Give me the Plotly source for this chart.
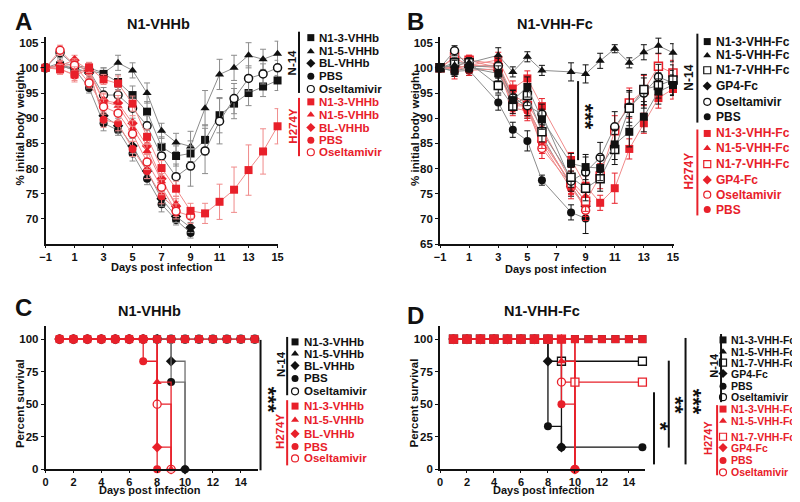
import plotly.graph_objects as go

# The page body has an 8px margin, so the figure is laid out in page pixels minus that offset.
OFF = 8
W, H = 800 - OFF, 502 - OFF
def px(x): return (x - OFF) / W
def py(y): return 1 - (y - OFF) / H

# ---------------- data: panel A (body weight, N1-VHHb) ----------------
days_A = [-1, 0, 1, 2, 3, 4, 5, 6, 7, 8, 9, 10, 11, 12, 13, 14, 15]
A_n14_n13 = [100, 100.5, 99.5, 99.5, 98.8, 97.2, 94.6, 91.3, 84.3, 82.5, 83.0, 85.7, 90.6, 92.9, 95.0, 96.3, 97.5]
A_n14_n15 = [100, 101.0, 100.5, 100.0, 99.0, 101.0, 99.5, 95.0, 87.5, 85.2, 84.4, 92.0, 98.7, 100.0, 102.5, 101.7, 102.8]
A_n14_bl = [100, 100.5, 100.0, 99.0, 90.5, 88.5, 84.5, 79.5, 74.0, 70.5, 68.3]
A_n14_pbs = [100, 100.3, 99.8, 96.0, 89.0, 87.6, 83.0, 78.0, 72.9, 69.8, 67.2]
A_n14_ose = [100, 103.0, 100.5, 99.5, 94.6, 94.6, 92.0, 88.5, 82.5, 78.4, 80.5, 83.5, 89.4, 93.9, 97.9, 98.8, 100.0]
A_h_n13 = [100, 99.7, 98.7, 100.1, 97.7, 96.9, 92.9, 86.3, 80.1, 76.0, 71.6, 71.1, 73.4, 75.8, 79.7, 83.4, 88.4]
A_h_n15 = [100, 100.3, 100.8, 99.2, 93.3, 92.5, 88.0, 83.5, 77.5, 73.0]
A_h_bl = [100, 100.5, 101.5, 99.5, 93.5, 93.0, 89.0, 84.5, 78.0, 72.5]
A_h_pbs = [100, 99.8, 98.5, 99.7, 89.7, 89.0, 83.9, 79.5, 74.5, 72.0]
A_h_ose = [100, 103.5, 100.5, 97.0, 92.3, 91.0, 86.9, 81.3, 76.3, 71.5, 70.6]

A_n14_n13_err = [0, 1.0, 1.2, 1.0, 1.2, 1.5, 1.8, 2.0, 2.0, 2.0, 2.5, 3.0, 3.5, 3.0, 2.5, 2.0, 2.0]
A_n14_n15_err = [0, 1.0, 1.0, 1.0, 1.0, 1.5, 1.5, 2.0, 1.5, 1.8, 3.0, 3.5, 3.0, 2.5, 2.5, 2.0, 2.5]
A_n14_bl_err = [0, 1.0, 1.0, 1.0, 1.5, 1.5, 1.5, 1.5, 1.5, 1.2, 1.0]
A_n14_pbs_err = [0, 1.0, 1.0, 1.0, 1.5, 1.0, 1.5, 1.2, 1.5, 1.0, 1.0]
A_n14_ose_err = [0, 1.0, 1.0, 1.0, 1.5, 1.5, 2.0, 2.0, 2.5, 2.5, 4.0, 4.5, 4.5, 3.0, 2.5, 2.0, 1.5]
A_h_n13_err = [0, 1.0, 1.5, 1.0, 1.0, 1.5, 1.5, 1.5, 1.5, 1.5, 1.5, 2.0, 3.5, 4.5, 5.0, 4.5, 3.5]
A_h_n15_err = [0, 1.0, 1.0, 1.0, 1.5, 1.5, 1.5, 1.5, 1.5, 1.5]
A_h_bl_err = [0, 1.0, 1.0, 1.0, 1.5, 1.5, 1.5, 1.5, 1.5, 1.5]
A_h_pbs_err = [0, 1.0, 1.0, 1.0, 1.5, 1.5, 1.5, 1.5, 1.5, 1.5]
A_h_ose_err = [0, 1.0, 1.0, 1.0, 1.5, 1.5, 1.5, 1.5, 1.5, 1.5, 1.5]

# ---------------- data: panel B (body weight, N1-VHH-Fc) ----------------
days_B = [-1, 0, 1, 3, 4, 5, 6, 8, 9, 10, 11, 12, 13, 14, 15]
B_n14_n13 = [100, 99.4, 100.0, 98.9, 93.6, 96.2, 89.8, 81.0, 80.3, 80.1, 84.8, 87.3, 90.3, 95.3, 96.6]
B_n14_n15 = [100, 100.5, 101.0, 102.5, 99.2, 102.2, 99.5, 99.2, 98.8, 101.4, 103.8, 101.0, 103.1, 104.4, 103.0]
B_n14_n17 = [100, 101.0, 101.0, 96.5, 92.4, 94.5, 87.3, 78.3, 76.1, 78.0, 83.8, 92.0, 95.7, 96.5, 97.6]
B_n14_gp4 = [100, 100.5, 100.0, 99.5, 94.5, 92.0, 86.5, 76.5, 72.5]
B_n14_ose = [100, 103.4, 100.2, 100.4, 94.0, 92.5, 90.8, 77.5, 79.3, 82.2, 88.3, 92.2, 95.0, 98.2, 97.0]
B_n14_pbs = [100, 99.3, 99.5, 93.1, 87.7, 85.5, 77.7, 71.3, 70.1]
B_h_n13 = [100, 99.8, 100.5, 101.6, 95.9, 97.9, 92.4, 81.7, 76.6, 73.2, 76.1, 83.9, 89.0, 94.0, 95.8]
B_h_n15 = [100, 100.0, 101.5, 100.8, 94.5, 93.0, 88.0, 77.5, 74.5]
B_h_n17 = [100, 102.2, 101.5, 100.0, 93.0, 92.5, 86.0, 77.0, 73.5, 78.5, 87.5, 93.0, 95.5, 100.3, 99.0]
B_h_gp4 = [100, 100.0, 100.5, 100.5, 93.5, 92.0, 85.5, 77.0, 73.5]
B_h_ose = [100, 102.0, 100.5, 100.0, 92.5, 92.4, 84.0, 76.8, 71.7]
B_h_pbs = [100, 100.2, 99.5, 99.8, 92.0, 91.5, 85.0, 76.0, 72.5]

B_n14_n13_err = [0, 1.0, 1.0, 1.5, 2.0, 2.0, 2.0, 2.0, 2.5, 2.5, 3.0, 3.0, 3.0, 2.5, 2.0]
B_n14_n15_err = [0, 1.0, 1.0, 1.5, 1.0, 1.0, 1.0, 1.8, 1.8, 1.5, 0.8, 1.0, 1.5, 1.5, 1.8]
B_n14_n17_err = [0, 1.0, 1.0, 1.5, 1.5, 2.0, 2.0, 2.0, 2.5, 2.5, 3.0, 3.5, 3.0, 2.5, 3.0]
B_n14_gp4_err = [0, 1.0, 1.0, 1.5, 1.5, 2.0, 2.0, 2.0, 2.0]
B_n14_ose_err = [0, 1.0, 1.0, 1.5, 1.5, 2.0, 2.0, 2.0, 3.0, 3.0, 3.0, 3.0, 3.0, 2.5, 2.5]
B_n14_pbs_err = [0, 1.0, 1.0, 1.5, 1.5, 2.0, 1.0, 1.5, 3.0]
B_h_n13_err = [0, 2.0, 1.5, 1.5, 1.5, 1.5, 1.5, 1.5, 2.0, 1.5, 3.0, 2.0, 2.0, 2.0, 2.0]
B_h_n15_err = [0, 1.0, 1.0, 1.5, 1.5, 2.0, 2.0, 2.0, 2.0]
B_h_n17_err = [0, 1.0, 1.0, 1.5, 1.5, 2.0, 2.0, 2.0, 2.0, 2.5, 3.0, 3.0, 3.0, 2.5, 2.5]
B_h_gp4_err = [0, 1.0, 1.0, 1.5, 1.5, 2.0, 2.0, 2.0, 2.0]
B_h_ose_err = [0, 1.0, 1.0, 1.5, 1.5, 2.0, 2.0, 2.0, 2.0]
B_h_pbs_err = [0, 1.0, 1.0, 1.5, 1.5, 2.0, 2.0, 2.0, 2.0]

# ---------------- data: panel C (survival, N1-VHHb) ----------------
C_full_days = [1, 2, 3, 4, 5, 6, 7, 8, 9, 10, 11, 12, 13, 14, 15]
C_full_vals = [100, 100, 100, 100, 100, 100, 100, 100, 100, 100, 100, 100, 100, 100, 100]
C_n14_bl_days = [1, 2, 3, 4, 5, 6, 7, 8, 9, 10]
C_n14_bl_vals = [100, 100, 100, 100, 100, 100, 100, 100, 83, 0]
C_n14_pbs_days = [1, 2, 3, 4, 5, 6, 7, 8, 9, 10]
C_n14_pbs_vals = [100, 100, 100, 100, 100, 100, 100, 100, 67, 0]
C_h_pbs_days = [1, 2, 3, 4, 5, 6, 7, 8]
C_h_pbs_vals = [100, 100, 100, 100, 100, 100, 83, 0]
C_h_n15_days = [1, 2, 3, 4, 5, 6, 7, 8, 9]
C_h_n15_vals = [100, 100, 100, 100, 100, 100, 100, 67, 0]
C_h_bl_days = [1, 2, 3, 4, 5, 6, 7, 8, 9]
C_h_bl_vals = [100, 100, 100, 100, 100, 100, 100, 17, 0]
C_h_ose_days = [1, 2, 3, 4, 5, 6, 7, 8, 9]
C_h_ose_vals = [100, 100, 100, 100, 100, 100, 100, 50, 0]

# ---------------- data: panel D (survival, N1-VHH-Fc) ----------------
D_full_days = [1, 2, 3, 4, 5, 6, 7, 8, 9, 10, 11, 12, 13, 14, 15]
D_full_vals = [100, 100, 100, 100, 100, 100, 100, 100, 100, 100, 100, 100, 100, 100, 100]
D_n14_n17_days = [1, 2, 3, 4, 5, 6, 7, 8, 9, 15]
D_n14_n17_vals = [100, 100, 100, 100, 100, 100, 100, 100, 83, 83]
D_n14_gp4_days = [1, 2, 3, 4, 5, 6, 7, 8, 9]
D_n14_gp4_vals = [100, 100, 100, 100, 100, 100, 100, 83, 17]
D_n14_pbs_days = [1, 2, 3, 4, 5, 6, 7, 8, 9, 15]
D_n14_pbs_vals = [100, 100, 100, 100, 100, 100, 100, 33, 17, 17]
D_h_n15_days = [1, 2, 3, 4, 5, 6, 7, 8, 9, 10]
D_h_n15_vals = [100, 100, 100, 100, 100, 100, 100, 100, 83, 0]
D_h_n17_days = [1, 2, 3, 4, 5, 6, 7, 8, 9, 10, 15]
D_h_n17_vals = [100, 100, 100, 100, 100, 100, 100, 100, 100, 67, 67]
D_h_gp4_days = [1, 2, 3, 4, 5, 6, 7, 8, 9, 10]
D_h_gp4_vals = [100, 100, 100, 100, 100, 100, 100, 100, 100, 0]
D_h_pbs_days = [1, 2, 3, 4, 5, 6, 7, 8, 9, 10]
D_h_pbs_vals = [100, 100, 100, 100, 100, 100, 100, 100, 50, 0]
D_h_ose_days = [1, 2, 3, 4, 5, 6, 7, 8, 9, 10]
D_h_ose_vals = [100, 100, 100, 100, 100, 100, 100, 100, 67, 0]

# legend labels
legA_n14 = ["N1-3-VHHb", "N1-5-VHHb", "BL-VHHb", "PBS", "Oseltamivir"]
legB_n14 = ["N1-3-VHH-Fc", "N1-5-VHH-Fc", "N1-7-VHH-Fc", "GP4-Fc", "Oseltamivir", "PBS"]
legD_n14 = ["N1-3-VHH-Fc", "N1-5-VHH-Fc", "N1-7-VHH-Fc", "GP4-Fc", "PBS", "Oseltamivir"]

# ---------------- styling ----------------
FONT = "Liberation Sans"
BLACK = "#111111"
GRAY = "#8c8c8c"
RED = "#e8202a"
LRED = "#f08a8a"

fig = go.Figure()

def wseries(x, y, err, sym, color, lcolor, ecolor, xa, ya, hollow=False, size=8):
    fig.add_trace(go.Scatter(
        x=x, y=y, xaxis=xa, yaxis=ya, mode="lines+markers",
        line=dict(color=lcolor, width=1),
        marker=dict(symbol=sym, size=size, color="white" if hollow else color,
                    line=dict(color=color, width=1.5 if hollow else 0)),
        error_y=dict(type="data", array=err, color=ecolor, thickness=1, width=3),
        showlegend=False, cliponaxis=False))

def sseries(x, y, sym, color, lcolor, xa, ya, hollow=False, size=8):
    fig.add_trace(go.Scatter(
        x=x, y=y, xaxis=xa, yaxis=ya, mode="lines+markers", line_shape="hv",
        line=dict(color=lcolor, width=1.3),
        marker=dict(symbol=sym, size=size, color="white" if hollow else color,
                    line=dict(color=color, width=1.3 if hollow else 0)),
        showlegend=False, cliponaxis=False))

# Panel A
wseries(days_A, A_n14_pbs, A_n14_pbs_err, "circle", BLACK, GRAY, GRAY, "x", "y")
wseries(days_A, A_n14_bl, A_n14_bl_err, "diamond", BLACK, GRAY, GRAY, "x", "y")
wseries(days_A, A_n14_n15, A_n14_n15_err, "triangle-up", BLACK, GRAY, GRAY, "x", "y")
wseries(days_A, A_n14_n13, A_n14_n13_err, "square", BLACK, GRAY, GRAY, "x", "y")
wseries(days_A, A_n14_ose, A_n14_ose_err, "circle", BLACK, GRAY, GRAY, "x", "y", hollow=True)
wseries(days_A, A_h_pbs, A_h_pbs_err, "circle", RED, LRED, LRED, "x", "y")
wseries(days_A, A_h_bl, A_h_bl_err, "diamond", RED, LRED, LRED, "x", "y")
wseries(days_A, A_h_n15, A_h_n15_err, "triangle-up", RED, LRED, LRED, "x", "y")
wseries(days_A, A_h_ose, A_h_ose_err, "circle", RED, LRED, LRED, "x", "y", hollow=True)
wseries(days_A, A_h_n13, A_h_n13_err, "square", RED, LRED, LRED, "x", "y")

# Panel B
wseries(days_B, B_n14_pbs, B_n14_pbs_err, "circle", BLACK, GRAY, BLACK, "x2", "y2")
wseries(days_B, B_n14_gp4, B_n14_gp4_err, "diamond", BLACK, GRAY, BLACK, "x2", "y2")
wseries(days_B, B_h_pbs, B_h_pbs_err, "circle", RED, LRED, RED, "x2", "y2")
wseries(days_B, B_h_gp4, B_h_gp4_err, "diamond", RED, LRED, RED, "x2", "y2")
wseries(days_B, B_h_n15, B_h_n15_err, "triangle-up", RED, LRED, RED, "x2", "y2")
wseries(days_B, B_h_ose, B_h_ose_err, "circle", RED, LRED, RED, "x2", "y2", hollow=True)
wseries(days_B, B_h_n17, B_h_n17_err, "square", RED, LRED, RED, "x2", "y2", hollow=True)
wseries(days_B, B_h_n13, B_h_n13_err, "square", RED, LRED, RED, "x2", "y2")
wseries(days_B, B_n14_ose, B_n14_ose_err, "circle", BLACK, GRAY, BLACK, "x2", "y2", hollow=True)
wseries(days_B, B_n14_n17, B_n14_n17_err, "square", BLACK, GRAY, BLACK, "x2", "y2", hollow=True)
wseries(days_B, B_n14_n13, B_n14_n13_err, "square", BLACK, GRAY, BLACK, "x2", "y2")
wseries(days_B, B_n14_n15, B_n14_n15_err, "triangle-up", BLACK, GRAY, BLACK, "x2", "y2")

# Panel C
CG = "#6e6e6e"
sseries(C_full_days, C_full_vals, "circle", BLACK, CG, "x3", "y3", hollow=True)
sseries(C_n14_bl_days, C_n14_bl_vals, "diamond", BLACK, CG, "x3", "y3")
sseries(C_n14_pbs_days, C_n14_pbs_vals, "circle", BLACK, CG, "x3", "y3")
sseries(C_h_bl_days, C_h_bl_vals, "diamond", RED, RED, "x3", "y3")
sseries(C_h_ose_days, C_h_ose_vals, "circle", RED, RED, "x3", "y3", hollow=True)
sseries(C_h_n15_days, C_h_n15_vals, "triangle-up", RED, RED, "x3", "y3")
sseries(C_h_pbs_days, C_h_pbs_vals, "circle", RED, RED, "x3", "y3")
sseries(C_full_days, C_full_vals, "square", RED, RED, "x3", "y3")

# Panel D
sseries(D_full_days, D_full_vals, "square", BLACK, BLACK, "x4", "y4")
sseries(D_n14_pbs_days, D_n14_pbs_vals, "circle", BLACK, BLACK, "x4", "y4")
sseries(D_n14_gp4_days, D_n14_gp4_vals, "diamond", BLACK, BLACK, "x4", "y4")
sseries(D_n14_n17_days, D_n14_n17_vals, "square", BLACK, BLACK, "x4", "y4", hollow=True)
sseries(D_h_gp4_days, D_h_gp4_vals, "diamond", RED, RED, "x4", "y4")
sseries(D_h_ose_days, D_h_ose_vals, "circle", RED, RED, "x4", "y4", hollow=True)
sseries(D_h_n17_days, D_h_n17_vals, "square", RED, RED, "x4", "y4", hollow=True)
sseries(D_h_pbs_days, D_h_pbs_vals, "circle", RED, RED, "x4", "y4")
sseries(D_h_n15_days, D_h_n15_vals, "triangle-up", RED, RED, "x4", "y4")
sseries(D_full_days, D_full_vals, "square", RED, RED, "x4", "y4")

# ---------------- axes ----------------
def axstyle(size=11.5, **kw):
    d = dict(showline=True, linecolor=BLACK, linewidth=1.6, ticks="outside", ticklen=3,
             tickwidth=1.4, tickcolor=BLACK, showgrid=False, zeroline=False,
             tickfont=dict(family=FONT, size=size, color=BLACK, weight="bold"))
    d.update(kw)
    return d

top_y = [py(247), py(37)]
bot_y = [py(475), py(330)]
fig.update_layout(
    xaxis=axstyle(size=11, ticklen=2, domain=[px(40), px(276)], range=[-1, 15.05], tickvals=[-1, 1, 3, 5, 7, 9, 11, 13, 15], anchor="y"),
    yaxis=axstyle(domain=top_y, range=[65, 106.2], tickvals=[70, 75, 80, 85, 90, 95, 100, 105], anchor="x"),
    xaxis2=axstyle(size=11, ticklen=2, domain=[px(440), px(677)], range=[-1, 15.05], tickvals=[-1, 1, 3, 5, 7, 9, 11, 13, 15], anchor="y2"),
    yaxis2=axstyle(domain=top_y, range=[65, 106.2], tickvals=[65, 70, 75, 80, 85, 90, 95, 100, 105], anchor="x2"),
    xaxis3=axstyle(size=11, ticklen=2, domain=[px(40), px(255)], range=[0, 15.2], tickvals=[0, 2, 4, 6, 8, 10, 12, 14], anchor="y3"),
    yaxis3=axstyle(domain=bot_y, range=[0, 110], tickvals=[0, 25, 50, 75, 100], anchor="x3"),
    xaxis4=axstyle(size=11, ticklen=2, domain=[px(440), px(648)], range=[0, 15.2], tickvals=[0, 2, 4, 6, 8, 10, 12, 14], anchor="y4"),
    yaxis4=axstyle(domain=bot_y, range=[0, 110], tickvals=[0, 25, 50, 75, 100], anchor="x4"),
    xaxis5=dict(domain=[0, 1], range=[OFF, 800], visible=False, anchor="y5", fixedrange=True),
    yaxis5=dict(domain=[0, 1], range=[502, OFF], visible=False, anchor="x5", fixedrange=True),
)

ann = []
shapes = []
def text(x, y, s, size=11, color=BLACK, xanchor="center", angle=0):
    ann.append(dict(x=px(x), y=py(y), xref="paper", yref="paper", text=s,
                    showarrow=False, xanchor=xanchor, yanchor="middle", textangle=angle,
                    font=dict(family=FONT, size=size, color=color, weight="bold")))
def vline(x, y0, y1, color=BLACK, width=2):
    shapes.append(dict(type="line", xref="paper", yref="paper", x0=px(x), x1=px(x),
                       y0=py(y0), y1=py(y1), line=dict(color=color, width=width)))

# panel letters and titles
text(18, 22, "A", size=24); text(415, 22, "B", size=24)
text(18, 311, "C", size=24); text(415, 319, "D", size=24)
text(155, 24, "N1-VHHb", size=14.5); text(557, 24, "N1-VHH-Fc", size=14.5)
text(145, 315, "N1-VHHb", size=14.5); text(543, 315, "N1-VHH-Fc", size=14.5)
# axis titles
text(14, 130, "% initial body weight", size=11.5, angle=-90)
text(414, 130, "% initial body weight", size=11.5, angle=-90)
text(14, 408, "Percent survival", size=11.5, angle=-90)
text(414, 408, "Percent survival", size=11.5, angle=-90)
text(158, 270, "Days post infection", size=11); text(558, 272, "Days post infection", size=11)
text(146, 496, "Days post infection", size=11); text(545, 496, "Days post infection", size=11)

# significance marks
vline(580, 82, 162, width=2); text(587, 118, "***", size=22, angle=90)
vline(258, 344, 476, width=2); text(266, 405, "***", size=22, angle=90)
vline(657, 397, 470, width=2); text(663, 432, "*", size=22, angle=90)
vline(672, 365, 453, width=2); text(679, 410, "**", size=22, angle=90)
vline(689, 342, 470, width=2); text(697, 407, "***", size=22, angle=90)

# legends
lx, ly, lsym, lcol, lhol = [], [], [], [], []
def legend(items, syms, hollows, color, xm, xt, ys, size=11):
    for s, sy, ho, y in zip(items, syms, hollows, ys):
        lx.append(xm); ly.append(y); lsym.append(sy); lcol.append(color); lhol.append(ho)
        text(xt, y, s, size=size, color=color, xanchor="left")

symA = ["square", "triangle-up", "diamond", "circle", "circle"]
holA = [False, False, False, False, True]
legend(legA_n14, symA, holA, BLACK, 309, 315, [38, 52, 64, 77, 90], size=11.5)
legend(legA_n14, symA, holA, RED, 309, 315, [103, 116, 129, 142, 154], size=11.5)
vline(297, 32, 94); vline(297, 99, 158, color=RED)
text(290, 63, "N-14", size=11.5, angle=-90); text(290, 128, "H274Y", size=11.5, color=RED, angle=-90)

symB = ["square", "triangle-up", "square", "diamond", "circle", "circle"]
holB = [False, False, True, False, True, False]
legend(legB_n14, symB, holB, BLACK, 711, 718, [42, 56, 71, 87, 103, 118], size=12)
legend(legB_n14, symB, holB, RED, 711, 718, [135, 150, 166, 182, 197, 212], size=12)
vline(701, 34, 124); vline(701, 131, 218, color=RED)
text(693, 78, "N-14", size=12, angle=-90); text(693, 173, "H274Y", size=12, color=RED, angle=-90)

legend(legA_n14, symA, holA, BLACK, 293, 300, [346, 358, 370, 383, 396], size=11.5)
legend(legA_n14, symA, holA, RED, 293, 300, [411, 425, 439, 452, 464], size=11.5)
vline(285, 341, 400); vline(285, 405, 471, color=RED)
text(278, 368, "N-14", size=11.5, angle=-90); text(278, 437, "H274Y", size=11.5, color=RED, angle=-90)

symD = ["square", "triangle-up", "square", "diamond", "circle", "circle"]
holD = [False, False, True, False, False, True]
legend(legD_n14, symD, holD, BLACK, 727, 733, [344, 356, 367, 378, 391, 402], size=10.5)
legend(legD_n14, symD, holD, RED, 727, 733, [414, 426, 442, 453, 466, 478], size=10.5)
vline(725, 338, 407); vline(721, 410, 481, color=RED)
text(717, 370, "N-14", size=11, angle=-90); text(711, 443, "H274Y", size=11, color=RED, angle=-90)

fig.add_trace(go.Scatter(
    x=lx, y=ly, xaxis="x5", yaxis="y5", mode="markers", showlegend=False, cliponaxis=False,
    marker=dict(symbol=lsym, size=7, color=["white" if h else c for h, c in zip(lhol, lcol)],
                line=dict(color=lcol, width=[1.2 if h else 0 for h in lhol]))))

fig.update_layout(width=W, height=H, margin=dict(l=0, r=0, t=0, b=0),
                  paper_bgcolor="white", plot_bgcolor="rgba(0,0,0,0)",
                  font=dict(family=FONT),
                  annotations=ann, shapes=shapes, showlegend=False)
fig.write_html("out.html")
